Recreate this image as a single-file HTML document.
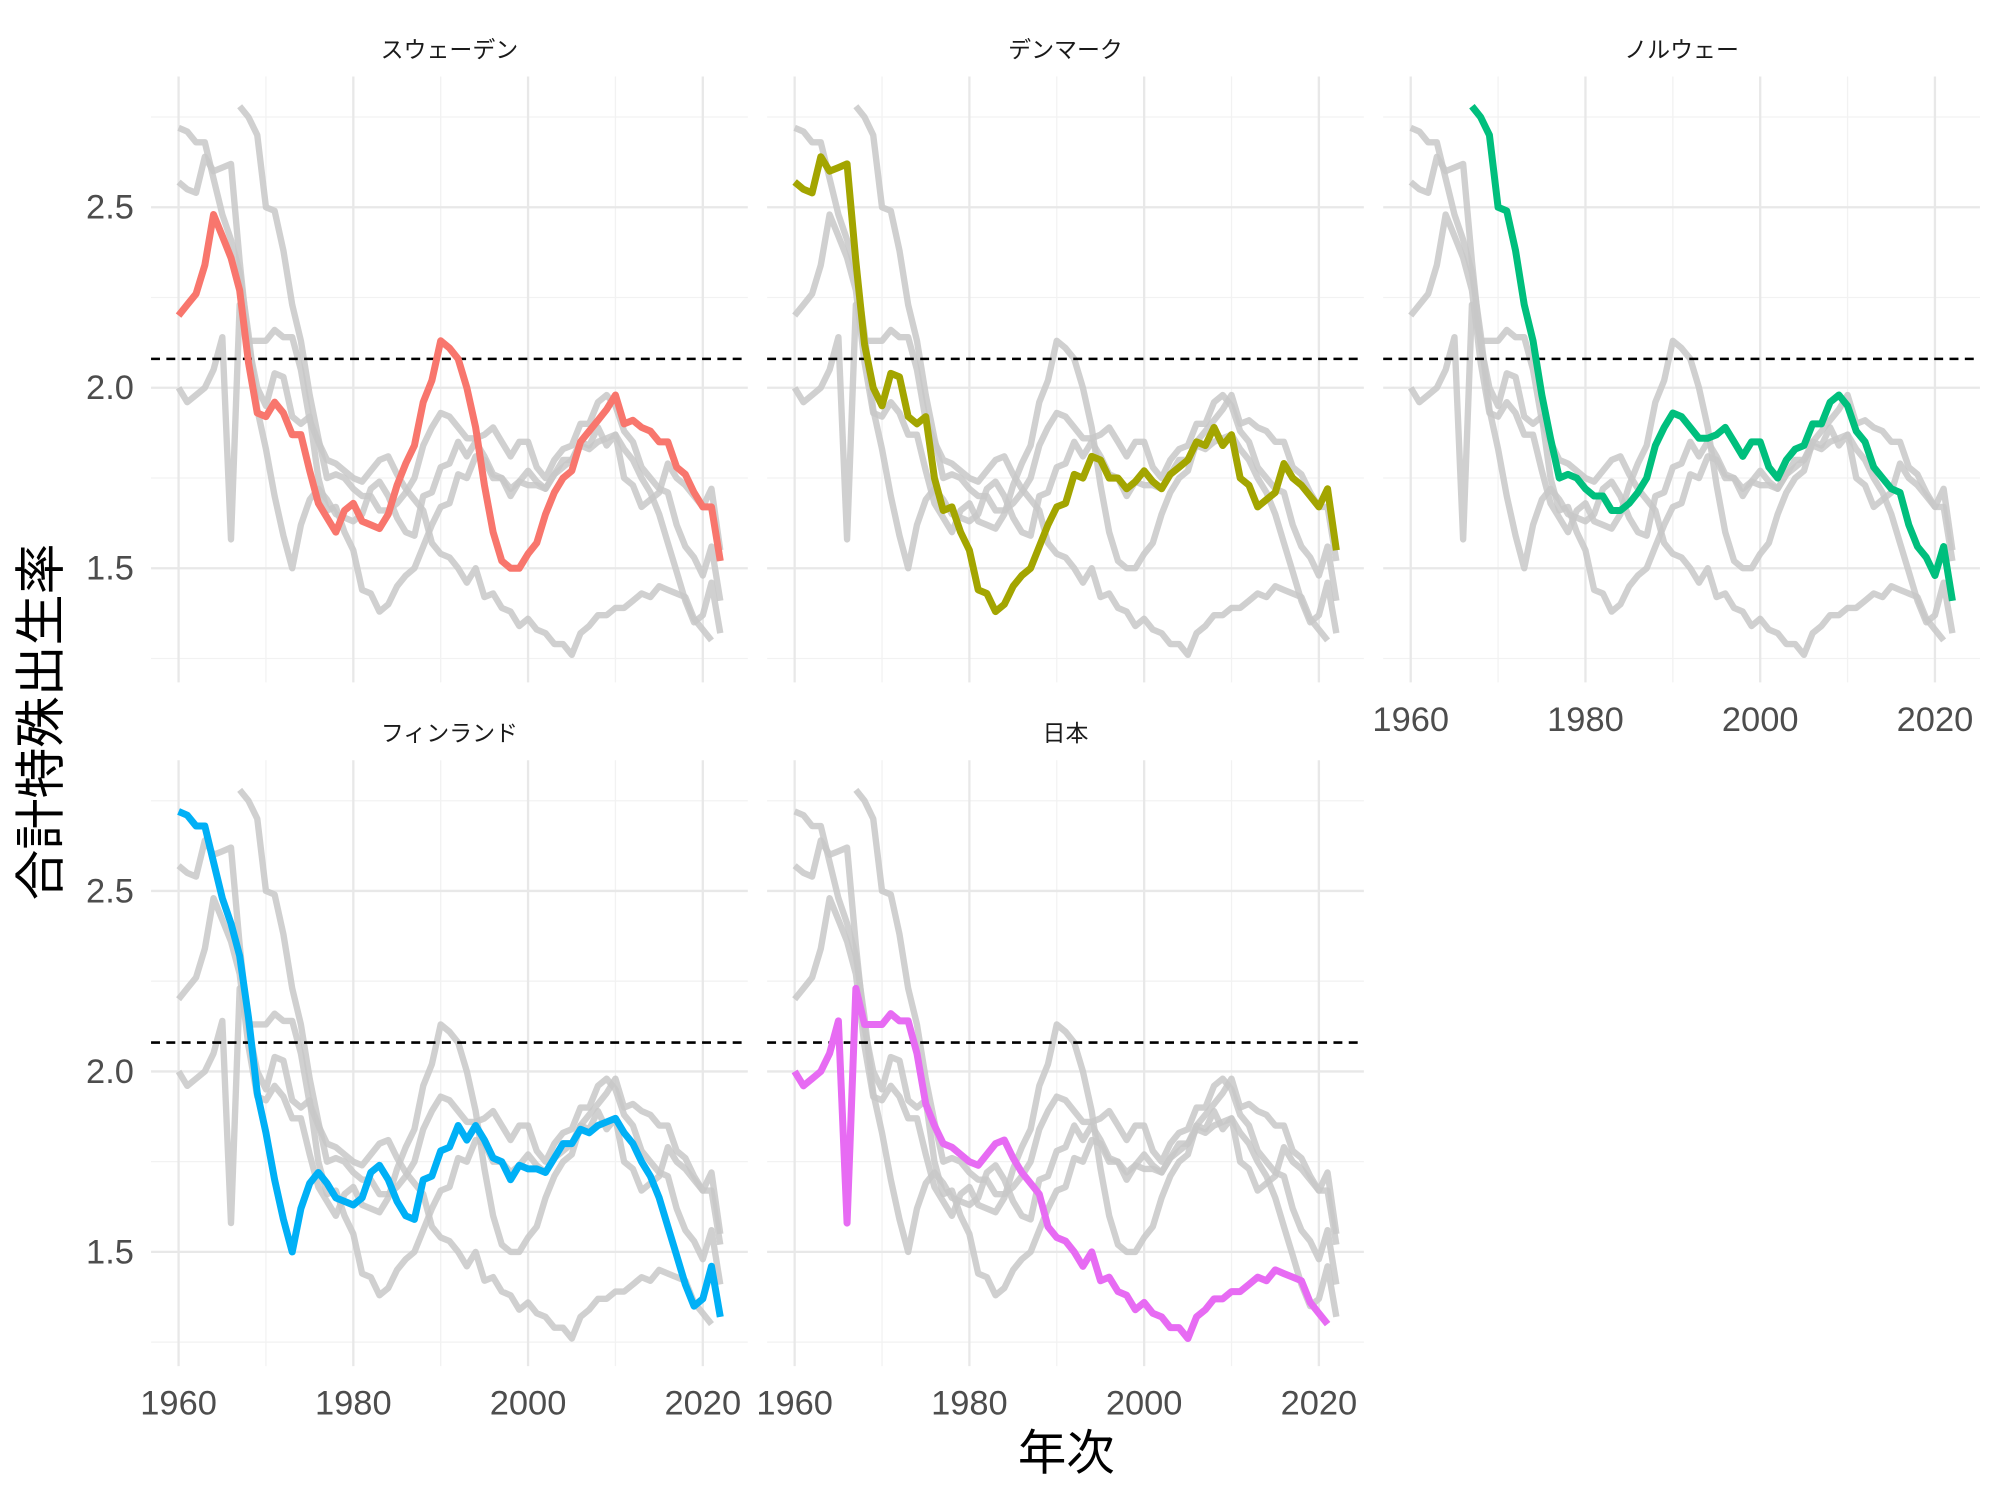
<!DOCTYPE html>
<html><head><meta charset="utf-8"><style>
html,body{margin:0;padding:0;background:#fff;}
svg{display:block;}
text{font-family:"Liberation Sans","Noto Sans CJK JP",sans-serif;}
</style></head><body>
<svg id="s" width="2000" height="1500" viewBox="0 0 1568 1176" xmlns="http://www.w3.org/2000/svg"></svg>
<script>
const D={
sw:{c:"#F8766D",s:1960,v:[2.20,2.23,2.26,2.34,2.48,2.42,2.36,2.27,2.07,1.93,1.92,1.96,1.93,1.87,1.87,1.77,1.68,1.64,1.60,1.66,1.68,1.63,1.62,1.61,1.65,1.73,1.79,1.84,1.96,2.02,2.13,2.11,2.08,2.00,1.89,1.73,1.60,1.52,1.50,1.50,1.54,1.57,1.65,1.71,1.75,1.77,1.85,1.88,1.91,1.94,1.98,1.90,1.91,1.89,1.88,1.85,1.85,1.78,1.76,1.71,1.67,1.67,1.52]},
dk:{c:"#A3A500",s:1960,v:[2.57,2.55,2.54,2.64,2.60,2.61,2.62,2.35,2.12,2.00,1.95,2.04,2.03,1.92,1.90,1.92,1.75,1.66,1.67,1.60,1.55,1.44,1.43,1.38,1.40,1.45,1.48,1.50,1.56,1.62,1.67,1.68,1.76,1.75,1.81,1.80,1.75,1.75,1.72,1.74,1.77,1.74,1.72,1.76,1.78,1.80,1.85,1.84,1.89,1.84,1.87,1.75,1.73,1.67,1.69,1.71,1.79,1.75,1.73,1.70,1.67,1.72,1.55]},
no:{c:"#00BF7D",s:1967,v:[2.78,2.75,2.70,2.50,2.49,2.38,2.23,2.13,1.98,1.86,1.75,1.76,1.75,1.72,1.70,1.70,1.66,1.66,1.68,1.71,1.75,1.84,1.89,1.93,1.92,1.89,1.86,1.86,1.87,1.89,1.85,1.81,1.85,1.85,1.78,1.75,1.80,1.83,1.84,1.90,1.90,1.96,1.98,1.95,1.88,1.85,1.78,1.75,1.72,1.71,1.62,1.56,1.53,1.48,1.56,1.41]},
fi:{c:"#00B0F6",s:1960,v:[2.72,2.71,2.68,2.68,2.58,2.48,2.41,2.32,2.15,1.94,1.83,1.70,1.59,1.50,1.62,1.69,1.72,1.69,1.65,1.64,1.63,1.65,1.72,1.74,1.70,1.64,1.60,1.59,1.70,1.71,1.78,1.79,1.85,1.81,1.85,1.81,1.76,1.75,1.70,1.74,1.73,1.73,1.72,1.76,1.80,1.80,1.84,1.83,1.85,1.86,1.87,1.83,1.80,1.75,1.71,1.65,1.57,1.49,1.41,1.35,1.37,1.46,1.32]},
jp:{c:"#E76BF3",s:1960,v:[2.00,1.96,1.98,2.00,2.05,2.14,1.58,2.23,2.13,2.13,2.13,2.16,2.14,2.14,2.05,1.91,1.85,1.80,1.79,1.77,1.75,1.74,1.77,1.80,1.81,1.76,1.72,1.69,1.66,1.57,1.54,1.53,1.50,1.46,1.50,1.42,1.43,1.39,1.38,1.34,1.36,1.33,1.32,1.29,1.29,1.26,1.32,1.34,1.37,1.37,1.39,1.39,1.41,1.43,1.42,1.45,1.44,1.43,1.42,1.36,1.33,1.30]}
};
const P=[
{k:"sw",n:"スウェーデン",x0:140,y0:0,xl:false},
{k:"dk",n:"デンマーク",x0:623,y0:0,xl:false},
{k:"no",n:"ノルウェー",x0:1106,y0:0,xl:true},
{k:"fi",n:"フィンランド",x0:140,y0:536,xl:true},
{k:"jp",n:"日本",x0:623,y0:536,xl:true}];
const XS=6.85, YS=283;
let h="";
P.forEach(p=>{
 const X=y=>p.x0+(y-1960)*XS, Y=v=>p.y0+304-(v-2.0)*YS;
 const L=X(1956.85),R=X(2025.15),T=p.y0+60,B=p.y0+535;
 [1.25,1.75,2.25,2.75].forEach(v=>h+=`<line x1="${L}" x2="${R}" y1="${Y(v)}" y2="${Y(v)}" stroke="#f2f2f2" stroke-width="1"/>`);
 [1970,1990,2010].forEach(v=>h+=`<line y1="${T}" y2="${B}" x1="${X(v)}" x2="${X(v)}" stroke="#f2f2f2" stroke-width="1"/>`);
 [1.5,2.0,2.5].forEach(v=>h+=`<line x1="${L}" x2="${R}" y1="${Y(v)}" y2="${Y(v)}" stroke="#e8e8e8" stroke-width="1.8"/>`);
 [1960,1980,2000,2020].forEach(v=>h+=`<line y1="${T}" y2="${B}" x1="${X(v)}" x2="${X(v)}" stroke="#e8e8e8" stroke-width="1.8"/>`);
 const path=d=>d.v.map((v,i)=>(i?"L":"M")+X(d.s+i).toFixed(1)+","+Y(v).toFixed(1)).join("");
 Object.keys(D).forEach(k=>h+=`<path d="${path(D[k])}" fill="none" stroke="#c8c8c8" stroke-opacity="0.85" stroke-width="5" stroke-linejoin="round"/>`);
 h+=`<line x1="${L}" x2="${R}" y1="${Y(2.08)}" y2="${Y(2.08)}" stroke="#000" stroke-width="2" stroke-dasharray="7,5"/>`;
 h+=`<path d="${path(D[p.k])}" fill="none" stroke="${D[p.k].c}" stroke-width="5.5" stroke-linejoin="round"/>`;
 h+=`<text x="${(L+R)/2}" y="${p.y0+45}" font-size="18" text-anchor="middle" fill="#1a1a1a">${p.n}</text>`;
 if(p.x0===140){[1.5,2.0,2.5].forEach(v=>h+=`<text x="105" y="${Y(v)+9}" font-size="27" text-anchor="end" fill="#4d4d4d">${v.toFixed(1)}</text>`);}
 if(p.xl){[1960,1980,2000,2020].forEach(v=>h+=`<text x="${X(v)}" y="${B+38}" font-size="27" text-anchor="middle" fill="#4d4d4d">${v}</text>`);}
});
h+=`<text x="836" y="1152" font-size="38" text-anchor="middle" fill="#000">年次</text>`;
h+=`<text transform="translate(46,566) rotate(-90)" font-size="40" text-anchor="middle" fill="#000">合計特殊出生率</text>`;
document.getElementById("s").innerHTML=h;
</script>
</body></html>
